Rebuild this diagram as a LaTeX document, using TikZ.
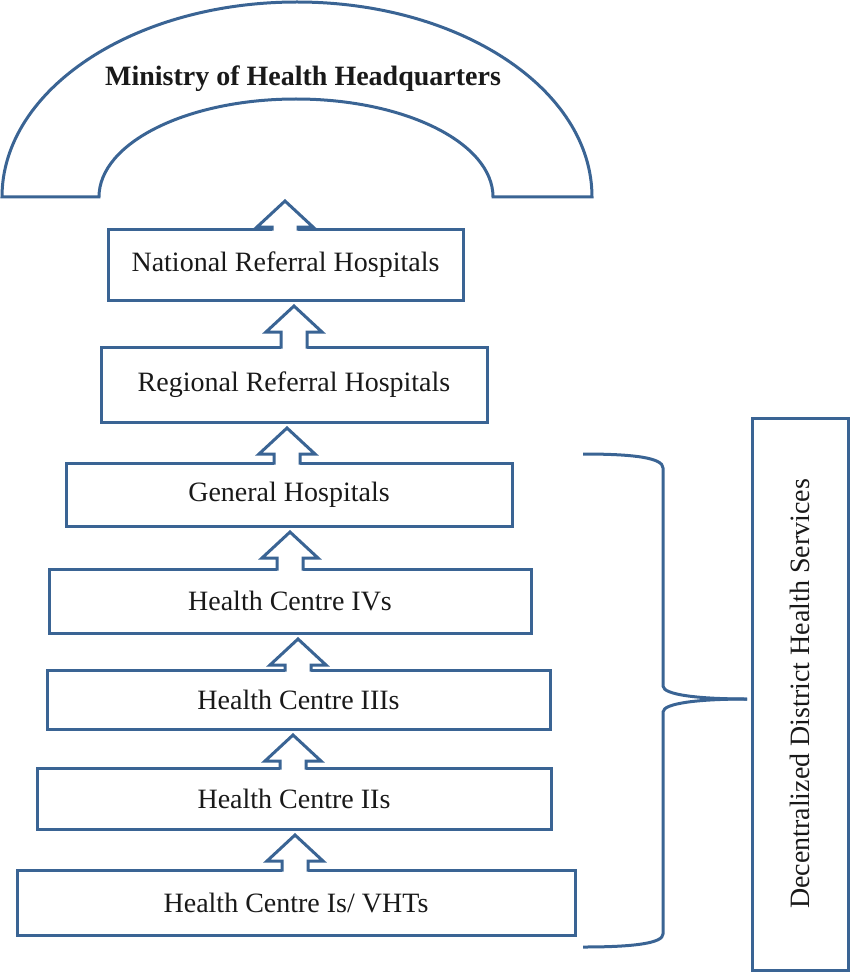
\documentclass[tikz,border=0pt]{standalone}
\usepackage{fontspec}
\setmainfont{Liberation Serif}
\usepackage{tikz}
\usetikzlibrary{calc}
\usepackage{xcolor}

\definecolor{tierblue}{RGB}{58,100,148}

% block arrow from the top of one tier up to the one above
\newcommand{\liftarrow}[3]{%
  \fill[white] let \p1=(#2.north), \p2=(#3), \p3=(#1,0) in
    (\x3-6.5pt,\y1-1pt) -- (\x3-6.5pt,\y2-16pt) -- (\x3-14pt,\y2-16pt) -- (\x3,\y2-3pt)
    -- (\x3+14pt,\y2-16pt) -- (\x3+6.5pt,\y2-16pt) -- (\x3+6.5pt,\y1-1pt) -- cycle;
  \draw[hull] let \p1=(#2.north), \p2=(#3), \p3=(#1,0) in
    (\x3-6.5pt,\y1-0.75pt) -- (\x3-6.5pt,\y2-16pt) -- (\x3-14pt,\y2-16pt) -- (\x3,\y2-3pt)
    -- (\x3+14pt,\y2-16pt) -- (\x3+6.5pt,\y2-16pt) -- (\x3+6.5pt,\y1-0.75pt);
}

\begin{document}
\begin{tikzpicture}[
    x=0.5pt, y=-0.5pt,
    font=\fontsize{14}{16.8}\selectfont,
    hull/.style={draw=tierblue, line width=1.5pt, line join=miter},
    tier/.style 2 args={
        rectangle, hull, inner sep=0pt, outer sep=0pt,
        minimum width=#1*0.5pt, minimum height=#2*0.5pt,
        text centered, text=black!90
    },
    side/.style={tier={552}{96}, rotate=90}
]
    \useasboundingbox (0,0) rectangle (850,973);

    % Headquarters arch
    \draw[hull] (2,197) arc[start angle=180, end angle=0, x radius=147.5pt, y radius=97.5pt]
        -- (493,197) arc[start angle=0, end angle=180, x radius=98.5pt, y radius=49pt] -- cycle;
    \node[font=\fontsize{14}{16.8}\selectfont\bfseries, text=black!90] (moh) at (303,79)
        {Ministry of Health Headquarters};
    \coordinate (hq) at (285,195);

    % Main flow
    \node[tier={355}{71}] (nat) at (285.5,264.5) {National Referral Hospitals};
    \node[tier={386}{75}] (reg) at (294,384.5) {Regional Referral Hospitals};
    \node[tier={446}{63}] (gen) at (289,494.5) {General Hospitals};
    \node[tier={482}{64}] (hc4) at (290,601) {Health Centre IVs};
    \node[tier={503}{59}] (hc3) at (298.5,699.5) {Health Centre IIIs};
    \node[tier={514}{61}] (hc2) at (294,798.5) {Health Centre IIs};
    \node[tier={558}{65}] (hc1) at (296,902.5) {Health Centre Is/ VHTs};

    % Side box
    \node[side] (dds) at (800,694) {Decentralized District Health Services};

    % Main arrows
    \liftarrow{285}{nat}{hq}
    \liftarrow{294}{reg}{nat.south}
    \liftarrow{287}{gen}{reg.south}
    \liftarrow{290}{hc4}{gen.south}
    \liftarrow{298}{hc3}{hc4.south}
    \liftarrow{293}{hc2}{hc3.south}
    \liftarrow{295}{hc1}{hc2.south}

    % Brace to the side box
    \coordinate (btip) at ($(dds.north)+(-5,5)$);
    \draw[hull, line join=round] (583,454) .. controls (635,454) and (663,458) .. (663,468)
        -- (663,686) .. controls (663,695) and (700,699) .. (btip);
    \draw[hull, line join=round] (btip) .. controls (700,699) and (663,703) .. (663,712)
        -- (663,934) .. controls (663,943) and (635,947) .. (583,947);

\end{tikzpicture}
\end{document}
